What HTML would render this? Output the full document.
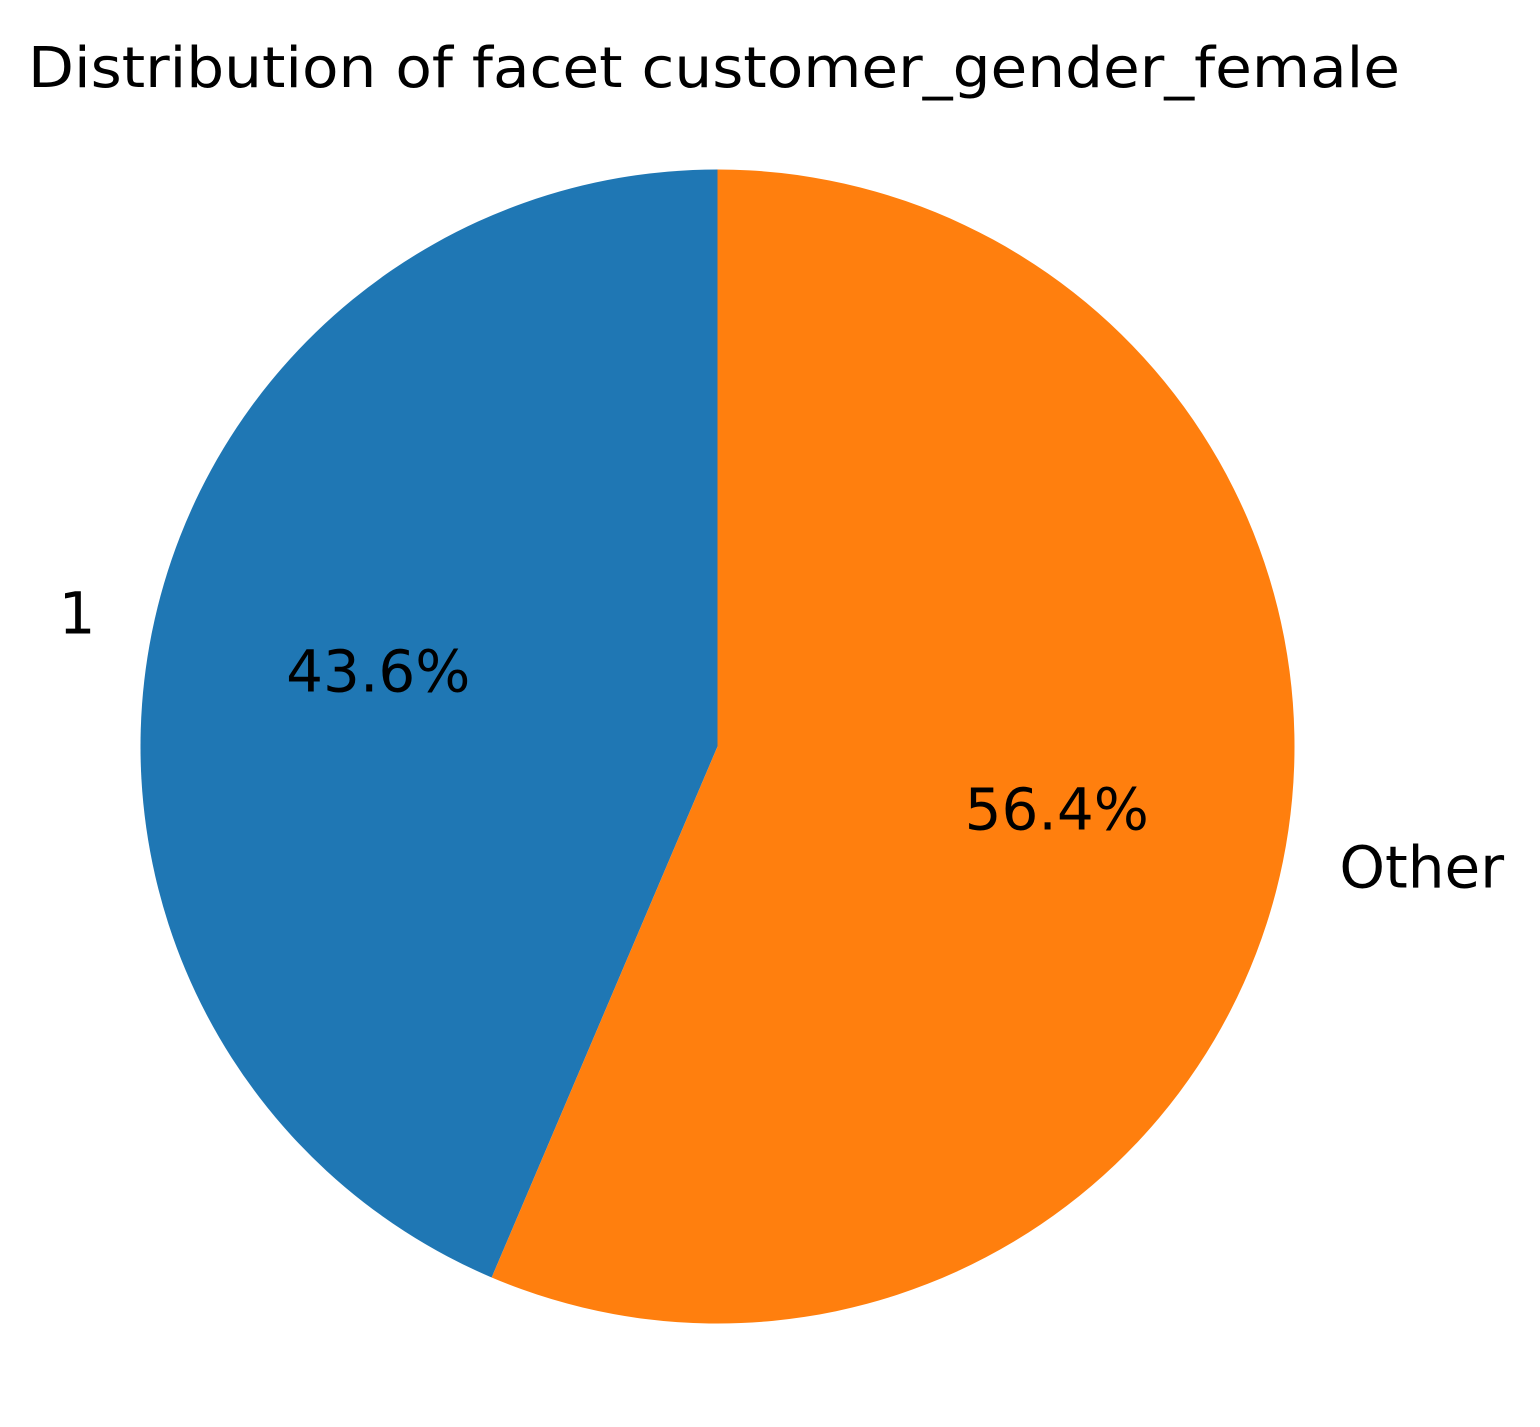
<!DOCTYPE html>
<html><head><meta charset="utf-8"><style>
html,body{margin:0;padding:0;background:#fff;}
svg text{font-family:"DejaVu Sans","Liberation Sans",sans-serif;fill:#000;}
</style></head><body>
<svg id="chart" width="1540" height="1422" viewBox="0 0 1540 1422">
<text x="28" y="87" font-size="56" textLength="1372" lengthAdjust="spacingAndGlyphs">Distribution of facet customer_gender_female</text>
<g id="slices"></g>
</svg>
<script>
const categories = ["1", "Other"];
const values = [43.6, 56.4];
const colors = ["#1f77b4", "#ff7f0e"];
const cx = 717.5, cy = 746.5, r = 577, fs = 58, dy = -6;
const ns = "http://www.w3.org/2000/svg";
const g = document.getElementById('slices');
const total = values.reduce((a,b)=>a+b,0);
let start = 90;
function pt(a, rr){ const t=a*Math.PI/180; return [cx+rr*Math.cos(t), cy-rr*Math.sin(t)]; }
values.forEach((v,i)=>{
  const sweep = v/total*360;
  const end = start + sweep;
  const p1 = pt(start, r), p2 = pt(end, r);
  const large = sweep>180?1:0;
  const path = document.createElementNS(ns,'path');
  path.setAttribute('d', `M${cx},${cy} L${p1[0]},${p1[1]} A${r},${r} 0 ${large} 0 ${p2[0]},${p2[1]} Z`);
  path.setAttribute('fill', colors[i]);
  
  
  g.appendChild(path);
  const mid = start + sweep/2;
  const lp = pt(mid, 1.1*r);
  const lab = document.createElementNS(ns,'text');
  lab.setAttribute('x', lp[0]); lab.setAttribute('y', lp[1] + dy);
  lab.setAttribute('font-size', fs);
  lab.setAttribute('dominant-baseline', 'central');
  lab.setAttribute('text-anchor', Math.cos(mid*Math.PI/180) < 0 ? 'end' : 'start');
  lab.textContent = categories[i];
  
  
  g.appendChild(lab);
  const pp = pt(mid, 0.6*r);
  const pct = document.createElementNS(ns,'text');
  pct.setAttribute('x', pp[0]); pct.setAttribute('y', pp[1] + dy);
  pct.setAttribute('font-size', fs);
  pct.setAttribute('dominant-baseline', 'central');
  pct.setAttribute('text-anchor', 'middle');
  pct.textContent = (v/total*100).toFixed(1) + '%';
  
  
  g.appendChild(pct);
  start = end;
});
</script>
</body></html>
